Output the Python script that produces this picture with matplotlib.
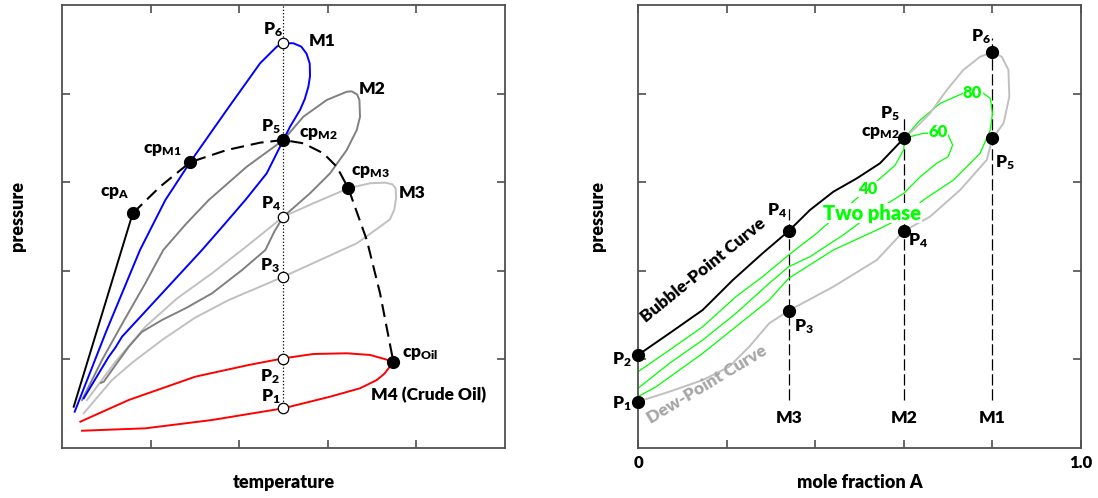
from matplotlib import pyplot as plt

# fonte parecida com Calibri (negrito) para tudo, inclusive subscritos
plt.rcParams['font.family'] = ['Lato', 'DejaVu Sans']
plt.rcParams['font.weight'] = 'heavy'
plt.rcParams['mathtext.fontset'] = 'custom'
plt.rcParams['mathtext.rm'] = 'Lato:heavy'
plt.rcParams['mathtext.it'] = 'Lato:heavy'
plt.rcParams['mathtext.bf'] = 'Lato:heavy'

# ---------------- dados do diagrama P-T (esquerda) ----------------
# componente A puro (curva de pressao de vapor)
tempA = [0.132, 0.798]
presA = [0.466, 2.649]

# envelope M1 (azul)
tempM1 = [0.143, 0.500, 0.880, 1.166, 1.445, 1.859, 2.235, 2.423, 2.498, 2.611, 2.700, 2.760, 2.795,
          2.799, 2.780, 2.740, 2.686, 2.573, 2.498, 2.310, 2.069, 1.820, 1.580, 1.129, 0.677, 0.600, 0.527, 0.245]
presM1 = [0.410, 1.320, 2.235, 2.799, 3.225, 3.815, 4.342, 4.529, 4.568, 4.568, 4.530, 4.450, 4.340,
          4.200, 4.078, 3.940, 3.815, 3.626, 3.476, 3.100, 2.799, 2.510, 2.235, 1.746, 1.256, 1.130, 1.030, 0.561]

# envelope M2 (cinza escuro)
tempM2 = [0.226, 0.451, 0.700, 0.940, 1.143, 1.400, 1.656, 2.085, 2.498, 2.723, 2.988, 3.213, 3.270, 3.330, 3.356, 3.363,
          3.326, 3.213, 3.025, 2.799, 2.498, 2.400, 2.295, 2.032, 1.693, 1.400, 1.129, 0.900, 0.753, 0.564, 0.471, 0.440]
presM2 = [0.542, 0.993, 1.440, 1.859, 2.235, 2.530, 2.799, 3.175, 3.476, 3.739, 3.928, 4.021, 4.025, 3.990, 3.928, 3.739,
          3.589, 3.363, 3.100, 2.875, 2.611, 2.450, 2.235, 2.009, 1.746, 1.580, 1.445, 1.310, 1.143, 0.880, 0.748, 0.735]

# envelope M3 (cinza claro)
tempM3 = [0.282, 0.600, 0.940, 1.300, 1.693, 2.100, 2.498, 2.836, 3.231, 3.476, 3.650, 3.730, 3.765, 3.770, 3.750,
          3.700, 3.589, 3.326, 2.912, 2.498, 1.881, 1.500, 1.129, 0.800, 0.564, 0.245]
presM3 = [0.542, 0.970, 1.369, 1.690, 1.972, 2.290, 2.611, 2.762, 2.931, 2.988, 2.995, 2.975, 2.930, 2.820, 2.690,
          2.580, 2.498, 2.310, 2.122, 1.933, 1.670, 1.470, 1.219, 0.970, 0.767, 0.392]

# envelope M4 - oleo cru (vermelho)
tempM4 = [0.207, 0.753, 1.504, 2.107, 2.498, 2.836, 3.213, 3.476, 3.620, 3.739, 3.700, 3.640, 3.552, 3.363,
          3.025, 2.498, 1.693, 0.940, 0.226]
presM4 = [0.297, 0.542, 0.805, 0.937, 1.012, 1.061, 1.069, 1.050, 1.010, 0.974, 0.920, 0.840, 0.767, 0.674,
          0.579, 0.448, 0.316, 0.222, 0.195]

# lugar geometrico dos pontos criticos (tracejado)
tempCrit = [0.798, 1.106, 1.445, 1.859, 2.235, 2.498, 2.723, 2.949, 3.100, 3.231, 3.439, 3.589, 3.739]
presCrit = [2.649, 2.949, 3.225, 3.363, 3.446, 3.476, 3.439, 3.326, 3.175, 2.931, 2.348, 1.746, 0.974]

# pontos criticos cpA, cpM1, cpM2, cpM3, cpOil
tempCp = [0.798, 1.445, 2.498, 3.231, 3.739]
presCp = [2.649, 3.225, 3.476, 2.931, 0.974]

# isoterma e pontos abertos P1, P2, P3, P4, P6
tempIso = 2.498
presIso = [0.448, 5.0]
presOpen = [0.448, 1.001, 1.933, 2.611, 4.568]

# ---------------- dados do diagrama P-x (direita) ----------------
xBubble = [0, 0.071, 0.146, 0.214, 0.281, 0.34, 0.388, 0.441, 0.494, 0.546, 0.6]
pBubble = [1.050, 1.295, 1.558, 1.896, 2.197, 2.449, 2.686, 2.893, 3.044, 3.213, 3.495]

xDew = [0, 0.071, 0.146, 0.206, 0.251, 0.296, 0.34, 0.441, 0.539, 0.6, 0.659, 0.727, 0.787, 0.8,
        0.825, 0.838, 0.836, 0.821, 0.8, 0.772, 0.734, 0.697, 0.659, 0.629, 0.6]
pDew = [0.523, 0.636, 0.767, 0.918, 1.144, 1.407, 1.550, 1.821, 2.122, 2.449, 2.611, 2.912, 3.251, 3.495,
        3.665, 3.965, 4.266, 4.416, 4.466, 4.416, 4.266, 4.041, 3.778, 3.626, 3.495]

# linhas de qualidade 40, 60, 80 (verde)
x40 = [0, 0.071, 0.146, 0.221, 0.281, 0.34, 0.403, 0.463, 0.516, 0.555, 0.58, 0.6, 0.6]
p40 = [0.861, 1.106, 1.369, 1.708, 1.933, 2.178, 2.423, 2.686, 2.912, 3.08, 3.19, 3.37, 3.495]
x60 = [0, 0.071, 0.146, 0.221, 0.296, 0.34, 0.388, 0.463, 0.539, 0.6, 0.637, 0.674, 0.700, 0.710,
       0.700, 0.675, 0.644, 0.6]
p60 = [0.674, 0.956, 1.219, 1.520, 1.859, 2.046, 2.159, 2.404, 2.686, 2.875, 3.062, 3.213, 3.288, 3.420,
       3.533, 3.55, 3.552, 3.495]
x80 = [0, 0.041, 0.146, 0.221, 0.296, 0.34, 0.441, 0.539, 0.6, 0.644, 0.712, 0.772, 0.795, 0.8,
       0.795, 0.779, 0.734, 0.682, 0.637, 0.6]
p80 = [0.579, 0.692, 1.069, 1.369, 1.670, 1.915, 2.235, 2.460, 2.611, 2.799, 3.025, 3.326, 3.589, 3.778,
       3.947, 4.004, 4.004, 3.890, 3.702, 3.495]

# misturas M3, M2, M1 (linhas verticais) e seus limites de pressao
xMix = [0.34, 0.6, 0.8]
mixNames = ['M3', 'M2', 'M1']
pMixTop = [2.743, 3.739, 4.628]
pMixBottom = 0.542

# pontos pretos: P1, P2, P3, P4(M3), P4(M2), cpM2, P5(M1), P6
xDots = [0, 0, 0.34, 0.34, 0.6, 0.6, 0.8, 0.8]
pDots = [0.523, 1.050, 1.550, 2.449, 2.449, 3.495, 3.495, 4.473]

fig = plt.figure(figsize=(10.98, 4.98), dpi=100)
ax1 = fig.add_axes([0.0565, 0.1004, 0.4035, 0.8896])
ax2 = fig.add_axes([0.5811, 0.1004, 0.4035, 0.8896])

lab = dict(fontsize=12.5, ha='center', va='center')

# ---------- grafico da esquerda ----------
ax1.plot([tempIso, tempIso], presIso, ':', color='black', lw=0.9)
ax1.plot(tempA, presA, color='black', lw=1.4)
ax1.plot(tempM3, presM3, color='#c0c0c0', lw=1.4)
ax1.plot(tempM2, presM2, color='#808080', lw=1.4)
ax1.plot(tempM1, presM1, color='#0000ff', lw=1.4)
ax1.plot(tempM4, presM4, color='#ff0000', lw=1.4)
ax1.plot(tempCrit, presCrit, color='black', lw=1.5, dashes=(6.3, 3.3))
ax1.plot(tempCp, presCp, 'o', color='black', ms=8.5)
ax1.plot([tempIso] * len(presOpen), presOpen, 'o', mfc='white', mec='black', mew=0.9, ms=7.5)

ax1.text(2.381, 4.718, 'P$_6$', **lab)
ax1.text(2.935, 4.594, 'M1', **lab)
ax1.text(3.499, 4.052, 'M2', **lab)
ax1.text(2.359, 3.623, 'P$_5$', **lab)
ax1.text(2.889, 3.544, r'cp$_{\mathrm{M2}}$', **lab)
ax1.text(1.129, 3.363, r'cp$_{\mathrm{M1}}$', **lab)
ax1.text(0.598, 2.878, r'cp$_{\mathrm{A}}$', **lab)
ax1.text(3.476, 3.115, r'cp$_{\mathrm{M3}}$', **lab)
ax1.text(3.950, 2.878, 'M3', **lab)
ax1.text(2.359, 2.754, 'P$_4$', **lab)
ax1.text(2.348, 2.054, 'P$_3$', **lab)
ax1.text(2.348, 0.801, 'P$_2$', **lab)
ax1.text(2.359, 0.576, 'P$_1$', **lab)
ax1.text(4.041, 1.061, r'cp$_{\mathrm{Oil}}$', **lab)
ax1.text(4.131, 0.598, 'M4 (Crude Oil)', **lab)

ax1.set_xlim(0, 5)
ax1.set_ylim(0, 5)
ax1.set_xticks([1, 2, 3, 4])
ax1.set_yticks([1, 2, 3, 4])
ax1.text(0.5, -0.077, 'temperature', transform=ax1.transAxes, fontsize=13, ha='center', va='center')
ax1.text(-0.1016, 0.524, 'pressure', transform=ax1.transAxes, fontsize=13, rotation=90,
         ha='center', va='center')

# ---------- grafico da direita ----------
for xm, top in zip(xMix, pMixTop):
    ax2.plot([xm, xm], [pMixBottom, top], color='black', lw=0.9, dashes=(9, 3))
ax2.plot(x40, p40, color='#00ff00', lw=0.9)
ax2.plot(x60, p60, color='#00ff00', lw=0.9)
ax2.plot(x80, p80, color='#00ff00', lw=0.9)
ax2.plot(xDew, pDew, color='#c0c0c0', lw=1.4)
ax2.plot(xBubble, pBubble, color='black', lw=1.4)
ax2.plot(xDots, pDots, 'o', color='black', ms=8.5, clip_on=False, zorder=5)

green = dict(fontsize=12, color='#00ff00', ha='center', va='center',
             bbox=dict(fc='white', ec='none', pad=0.3))
ax2.text(0.518, 2.923, '40', **green)
ax2.text(0.678, 3.567, '60', **green)
ax2.text(0.755, 4.007, '80', **green)
ax2.text(0.529, 2.652, 'Two phase', fontsize=14.5, color='#00ff00',
         ha='center', va='center', bbox=dict(fc='white', ec='none', pad=0.2))

ax2.text(0.147, 2.009, 'Bubble-Point Curve', fontsize=12.5, rotation=39, ha='center', va='center')
ax2.text(0.155, 0.711, 'Dew-Point Curve', fontsize=12.5, rotation=31, color='#a6a6a6',
         ha='center', va='center')

ax2.text(0.774, 4.644, 'P$_6$', **lab)
ax2.text(0.569, 3.775, 'P$_5$', **lab)
ax2.text(0.546, 3.550, r'cp$_{\mathrm{M2}}$', **lab)
ax2.text(0.828, 3.217, 'P$_5$', **lab)
ax2.text(0.632, 2.336, 'P$_4$', **lab)
ax2.text(0.314, 2.675, 'P$_4$', **lab)
ax2.text(0.375, 1.366, 'P$_3$', **lab)
ax2.text(-0.036, 0.993, 'P$_2$', clip_on=False, **lab)
ax2.text(-0.036, 0.497, 'P$_1$', clip_on=False, **lab)
for xm, name in zip(xMix, mixNames):
    ax2.text(xm, 0.339, name, **lab)

ax2.set_xlim(0, 1)
ax2.set_ylim(0, 5)
ax2.set_xticks([0, 0.2, 0.4, 0.6, 0.8, 1.0])
ax2.set_xticklabels(['0', '', '', '', '', '1.0'])
ax2.set_yticks([1, 2, 3, 4])
ax2.text(0.501, -0.077, 'mole fraction A', transform=ax2.transAxes, fontsize=13, ha='center', va='center')
ax2.text(-0.0926, 0.524, 'pressure', transform=ax2.transAxes, fontsize=13, rotation=90,
         ha='center', va='center')

# eixos com marcas para dentro nos quatro lados
for ax in [ax1, ax2]:
    ax.tick_params(direction='in', length=6, width=1.1, color='#404040', top=True, right=True,
                   labelleft=False, labelsize=12, pad=5)
    for sp in ax.spines.values():
        sp.set_color('#505050')
        sp.set_linewidth(1.3)
ax1.tick_params(labelbottom=False)

plt.savefig('out.png', dpi=100)
